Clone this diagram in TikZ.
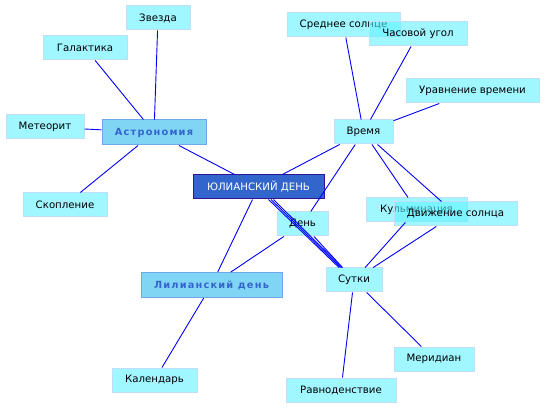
\documentclass[tikz,border=0pt]{standalone}
\usepackage{fontspec}
\setmainfont{DejaVu Sans}
\definecolor{lbox}{RGB}{97,243,255}
\definecolor{lborder}{RGB}{190,222,250}
\definecolor{abox}{RGB}{128,212,244}
\definecolor{aborder}{RGB}{110,168,232}
\definecolor{atext}{RGB}{51,102,204}
\definecolor{jbox}{RGB}{51,102,204}
\definecolor{jborder}{RGB}{50,20,150}
\definecolor{edge}{RGB}{0,0,255}
\begin{document}
\begin{tikzpicture}[x=1pt,y=-1pt,
  leaf/.style={draw=lborder,line width=1pt,fill=lbox,fill opacity=0.6,text opacity=1,inner sep=0pt,minimum height=24pt,font=\fontsize{10.2}{12}\selectfont},
  hub/.style={draw=aborder,line width=1pt,fill=abox,inner sep=0pt,minimum height=25pt,text=atext,font=\fontsize{9.8}{12}\selectfont\bfseries\addfontfeature{LetterSpace=12}},
  root/.style={draw=jborder,line width=1pt,fill=jbox,inner sep=0pt,minimum height=24pt,text=white,font=\fontsize{10.2}{12}\selectfont},
  link/.style={draw=edge,line width=0.9pt}]
\useasboundingbox (0,0) rectangle (547,409);
\fill[white] (0,0) rectangle (547,409);
% nodes
\node[leaf,minimum width=64pt] (zv) at (158,18) {Звезда};
\node[leaf,minimum width=84pt] (gal) at (85,48) {Галактика};
\node[leaf,minimum width=78pt] (met) at (45,127) {Метеорит};
\node[hub,minimum width=104pt] (ast) at (154,132.5) {Астрономия};
\node[leaf,minimum width=84pt] (sko) at (65,205) {Скопление};
\node[root,minimum width=131pt] (ju) at (258.5,187) {ЮЛИАНСКИЙ ДЕНЬ};
\node[leaf,minimum width=113pt] (sred) at (343.5,25) {Среднее солнце};
\node[leaf,minimum width=98pt] (chas) at (418,34) {Часовой угол};
\node[leaf,minimum width=133pt] (urav) at (472.5,91) {Уравнение времени};
\node[leaf,minimum width=59pt] (vr) at (363.5,132) {Время};
\node[leaf,minimum width=101pt] (kul) at (416.5,210) {Кульминация};
\node[leaf,minimum width=123pt] (dv) at (455.5,214) {Движение солнца};
\node[leaf,minimum width=51pt] (den) at (302.5,224) {День};
\node[leaf,minimum width=56pt] (sut) at (354,280) {Сутки};
\node[hub,minimum width=141pt] (lil) at (211.5,285) {Лилианский день};
\node[leaf,minimum width=85pt] (kal) at (154.5,380) {Календарь};
\node[leaf,minimum width=110pt] (rav) at (341,390) {Равноденствие};
\node[leaf,minimum width=80pt] (mer) at (434,359) {Меридиан};
% connectors
\draw[link] (ast) -- (zv);
\draw[link] (ast) -- (gal);
\draw[link] (ast) -- (met);
\draw[link] (ast) -- (sko);
\draw[link] (ast) -- (ju);
\draw[link] (ju) -- (vr);
\draw[link] (ju) -- (lil);
\draw[link] ([xshift=10pt]ju.south) -- ([xshift=-15pt]sut.north);
\draw[link] ([xshift=12.5pt]ju.south) -- ([xshift=-13.5pt]sut.north);
\draw[link] ([xshift=15pt]ju.south) -- ([xshift=-12pt]sut.north);
\draw[link] (den) -- (sut);
\draw[link] (den) -- (lil);
\draw[link] (den) -- (vr);
\draw[link] (vr) -- (sred);
\draw[link] (vr) -- (chas);
\draw[link] (vr) -- (urav);
\draw[link] (vr) -- (kul);
\draw[link] (vr) -- (dv);
\draw[link] (sut) -- (kul);
\draw[link] (sut) -- (dv);
\draw[link] (sut) -- (rav);
\draw[link] (sut) -- (mer);
\draw[link] (lil) -- (kal);
\end{tikzpicture}
\end{document}
